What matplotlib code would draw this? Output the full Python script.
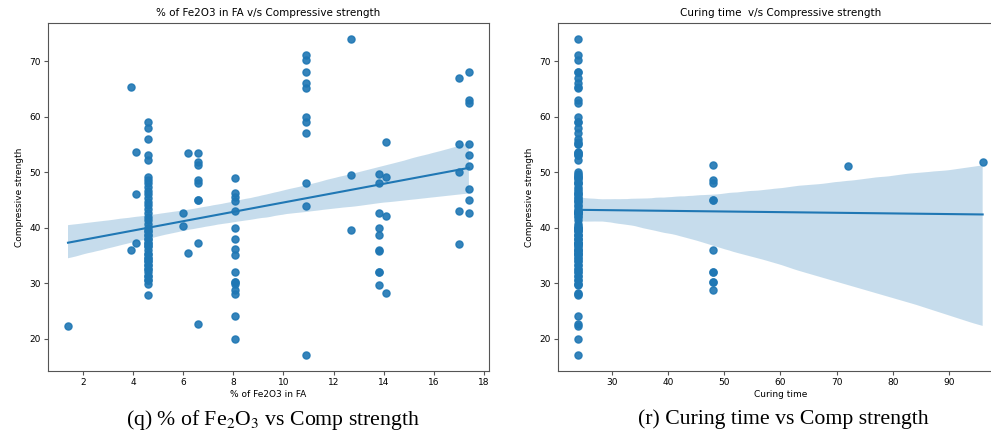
import numpy as np
import pandas as pd
import matplotlib
matplotlib.use("Agg")
import matplotlib.pyplot as plt
import seaborn as sns

# % Fe2O3 in fly ash -> compressive strength values
fe_levels = [1.4, 3.9, 4.1, 4.6, 6.0, 6.2, 6.6, 8.05, 10.9, 12.7, 13.8, 14.1, 17.0, 17.4]
strength_groups = [
    [22.3],
    [65.3, 35.9],
    [53.6, 46.0, 37.3],
    [59.1, 58.0, 56.0, 53.1, 52.1, 49.2, 48.5, 48.0, 47.3, 46.6, 46.0, 45.3,
     44.6, 44.0, 43.3, 42.6, 42.0, 41.3, 40.6, 40.0, 39.3, 38.6, 38.0, 37.3,
     36.6, 36.0, 35.3, 34.6, 34.0, 33.3, 32.6, 32.0, 31.3, 30.6, 29.9, 27.9,
     39.3, 38.6, 38.0, 37.3, 36.6, 35.3, 34.6, 34.0, 33.3, 32.6, 31.3, 30.6],
    [42.7, 40.3],
    [53.5, 35.5],
    [53.5, 51.8, 51.3, 48.6, 48.1, 44.9, 44.9, 37.3, 22.7],
    [49.0, 46.2, 45.6, 44.8, 43.0, 39.9, 38.0, 36.2, 35.0, 32.0, 30.2, 30.2,
     29.8, 28.8, 28.0, 24.1, 20.0],
    [71.2, 70.2, 68.0, 66.1, 65.1, 60.0, 59.0, 57.0, 48.0, 43.9, 17.0],
    [74.0, 49.4, 39.5],
    [49.7, 48.0, 42.6, 39.9, 38.6, 36.0, 35.8, 32.0, 32.0, 29.7],
    [55.5, 49.1, 42.1, 28.2],
    [67.0, 55.0, 50.0, 43.0, 37.0],
    [68.0, 63.0, 62.5, 55.0, 53.1, 51.1, 46.9, 45.0, 42.6],
]

# samples not cured for 24 h (everything else is 24 h)
curing_hours = [48, 72, 96]
curing_strengths = [
    [51.3, 48.6, 48.1, 44.9, 44.9, 36.0, 32.0, 32.0, 30.2, 30.2, 28.8],
    [51.1],
    [51.8],
]

fe = []
strength = []
for level, vals in zip(fe_levels, strength_groups):
    fe += [level] * len(vals)
    strength += vals
curing = [24] * len(strength)
for hrs, vals in zip(curing_hours, curing_strengths):
    for v in vals:
        for i in range(len(strength)):
            if strength[i] == v and curing[i] == 24:
                curing[i] = hrs
                break

df = pd.DataFrame({"fe": fe, "curing": curing, "strength": strength})

plt.rcParams["mathtext.fontset"] = "stix"

fig = plt.figure(figsize=(9.91, 4.37), dpi=100)
ax1 = fig.add_axes([0.0484, 0.151, 0.445, 0.796])
ax2 = fig.add_axes([0.563, 0.151, 0.449, 0.796])

kw = dict(scatter_kws={"s": 26, "alpha": 0.9}, line_kws={"lw": 1.5}, seed=3)
sns.regplot(data=df, x="fe", y="strength", ax=ax1, color="#1f77b4", **kw)
sns.regplot(data=df, x="curing", y="strength", ax=ax2, color="#1f77b4", **kw)

ax1.set_title("% of Fe2O3 in FA v/s Compressive strength", fontsize=7.5, pad=5)
ax1.set_xlabel("% of Fe2O3 in FA", fontsize=6.5, labelpad=2)
ax2.set_title("Curing time  v/s Compressive strength", fontsize=7.5, pad=5)
ax2.set_xlabel("Curing time", fontsize=6.5, labelpad=2)
ax1.set_xticks([2, 4, 6, 8, 10, 12, 14, 16, 18])
ax2.set_xticks([30, 40, 50, 60, 70, 80, 90])
for ax in (ax1, ax2):
    ax.set_ylabel("Compressive strength", fontsize=6.5)
    ax.set_yticks([20, 30, 40, 50, 60, 70])
    ax.tick_params(labelsize=6.5, length=3, pad=2, color="#555555")
    for s in ax.spines.values():
        s.set_color("#555555")
    # confidence band a bit stronger blue
    for c in ax.collections[1:]:
        c.set_alpha(0.25)

fig.text(0.2755, 0.04, "(q) % of Fe$_2$O$_3$ vs Comp strength", ha="center", va="center",
         fontsize=15.7, family="Liberation Serif")
fig.text(0.79, 0.04, "(r) Curing time vs Comp strength", ha="center", va="center",
         fontsize=15.7, family="Liberation Serif")

fig.savefig("out.png", dpi=100)
